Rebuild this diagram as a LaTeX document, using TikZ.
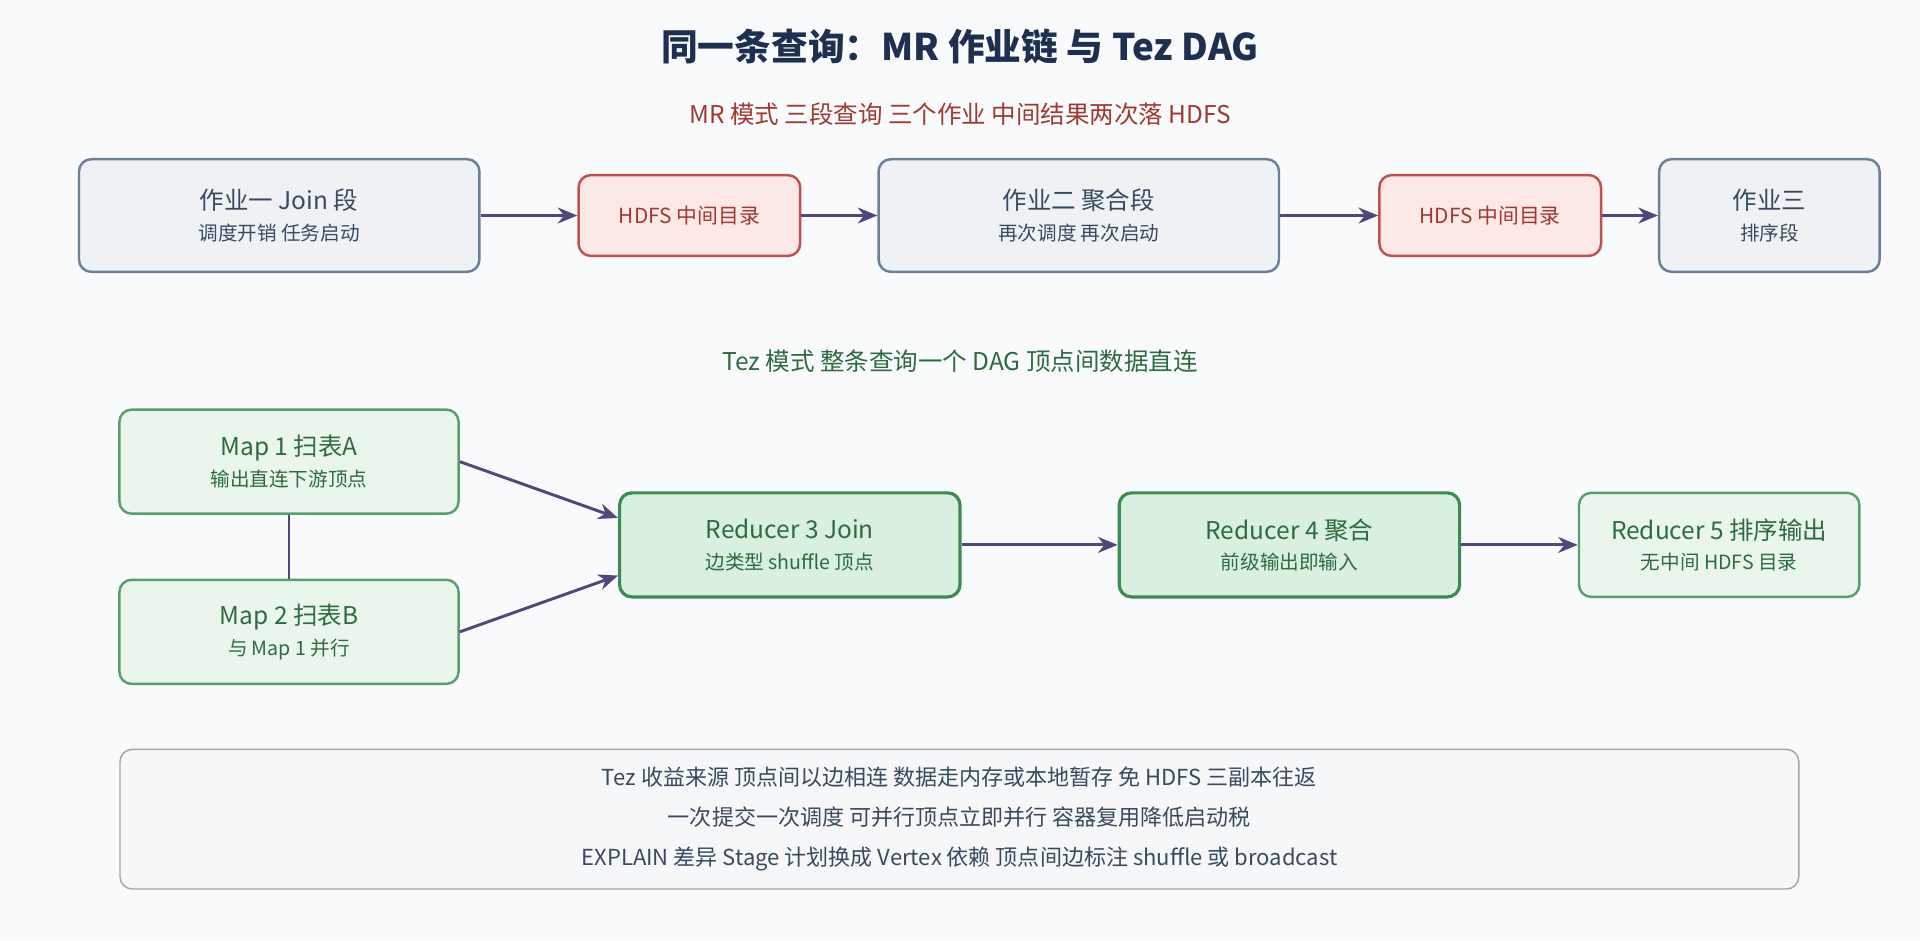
\documentclass[tikz,border=0pt]{standalone}
\usepackage{fontspec}
\setmainfont{Noto Sans CJK SC}
\usepackage{xcolor}
\definecolor{bgc}{HTML}{F8FAFC}
\definecolor{titlec}{HTML}{1F2F4F}
\definecolor{mrline}{HTML}{6B7F99}
\definecolor{mrfill}{HTML}{EEF2F5}
\definecolor{mrtext}{HTML}{3A4A5E}
\definecolor{hdline}{HTML}{C0504D}
\definecolor{hdfill}{HTML}{FDE8E8}
\definecolor{hdtext}{HTML}{A03A30}
\definecolor{tzline}{HTML}{5A9E6B}
\definecolor{tzfill}{HTML}{EAF6EC}
\definecolor{tzdark}{HTML}{3D8A55}
\definecolor{tzdfill}{HTML}{D9EFE0}
\definecolor{tztext}{HTML}{2E6B40}
\definecolor{arrc}{HTML}{54457A}
\usetikzlibrary{positioning, arrows.meta}
\newcommand{\subl}[1]{\\[-1pt]{\fontsize{16}{19}\selectfont #1}}
\tikzset{
    box/.style = {rounded corners=10pt, line width=2pt, align=center,
        font=\fontsize{20}{26}\selectfont, inner sep=0pt},
    mr/.style = {box, draw=mrline, fill=mrfill, text=mrtext},
    hdfs/.style = {box, draw=hdline, fill=hdfill, text=hdtext,
        minimum width=181pt, minimum height=66pt, font=\fontsize{17}{20}\selectfont},
    tz/.style = {box, draw=tzline, fill=tzfill, text=tztext, minimum height=85pt},
    tzd/.style = {tz, draw=tzdark, fill=tzdfill, line width=2.6pt},
    arrow/.style = {-{Stealth[length=16pt,width=13pt]}, draw=arrc, line width=2.4pt},
}

\begin{document}
\begin{tikzpicture}[x=1pt, y=-1pt]
    \fill[bgc] (0,0) rectangle (1568,768);
    \useasboundingbox (0,0) rectangle (1568,768);

    % titles
    \node (title) at (784,38) [text=titlec, font=\fontsize{30}{36}\selectfont\bfseries] {同一条查询：MR 作业链 与 Tez DAG};
    \node (mrhead) at (784,93) [text=hdtext, font=\fontsize{20}{24}\selectfont] {MR 模式 三段查询 三个作业 中间结果两次落 HDFS};
    \node (tzhead) at (784,295) [text=tztext, font=\fontsize{20}{24}\selectfont] {Tez 模式 整条查询一个 DAG 顶点间数据直连};

    % MR chain
    \node (job1) at (228,176) [mr, minimum width=327pt, minimum height=92pt] {作业一 Join 段\subl{调度开销 任务启动}};
    \node (hdfs1) at (563,176) [hdfs] {HDFS 中间目录};
    \node (job2) at (881,176) [mr, minimum width=327pt, minimum height=92pt] {作业二 聚合段\subl{再次调度 再次启动}};
    \node (hdfs2) at (1217,176) [hdfs] {HDFS 中间目录};
    \node (job3) at (1445,176) [mr, minimum width=180pt, minimum height=92pt] {作业三\subl{排序段}};

    \draw[arrow] (job1) -- (hdfs1);
    \draw[arrow] (hdfs1) -- (job2);
    \draw[arrow] (job2) -- (hdfs2);
    \draw[arrow] (hdfs2) -- (job3);

    % Tez DAG
    \node (map1) at (236,377) [tz, minimum width=277pt] {Map 1 扫表A\subl{输出直连下游顶点}};
    \node (map2) at (236,516) [tz, minimum width=277pt] {Map 2 扫表B\subl{与 Map 1 并行}};
    \node (red3) at (645,445) [tzd, minimum width=278pt] {Reducer 3 Join\subl{边类型 shuffle 顶点}};
    \node (red4) at (1053,445) [tzd, minimum width=278pt] {Reducer 4 聚合\subl{前级输出即输入}};
    \node (red5) at (1404,445) [tz, minimum width=229pt] {Reducer 5 排序输出\subl{无中间 HDFS 目录}};

    \draw[arrc, line width=2.4pt] (map1) -- (map2);
    \draw[arrow] (map1.east) ++(0,0) -- (red3.west |- 0,423);
    \draw[arrow] (map2.east) -- (red3.west |- 0,470);
    \draw[arrow] (red3) -- (red4);
    \draw[arrow] (red4) -- (red5);

    % note
    \node (note) at (783.5,669) [draw=gray!70, fill=mrfill!60, rounded corners=10pt, line width=1.2pt,
        minimum width=1371pt, minimum height=114pt, align=center, text=mrtext,
        font=\fontsize{18}{32.5}\selectfont]
        {Tez 收益来源 顶点间以边相连 数据走内存或本地暂存 免 HDFS 三副本往返\\
         一次提交一次调度 可并行顶点立即并行 容器复用降低启动税\\
         EXPLAIN 差异 Stage 计划换成 Vertex 依赖 顶点间边标注 shuffle 或 broadcast};
\end{tikzpicture}
\end{document}
